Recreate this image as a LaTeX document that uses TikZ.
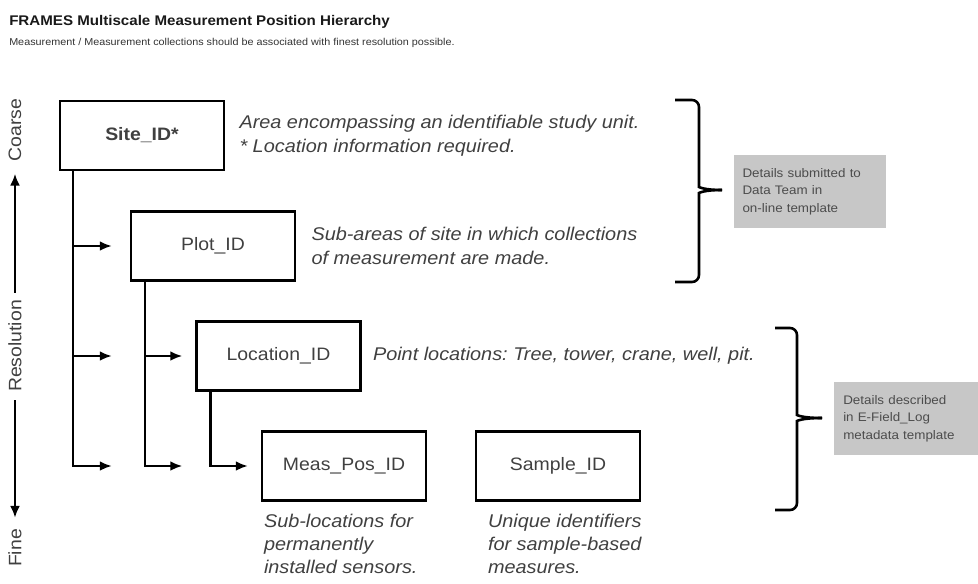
\documentclass[tikz,border=0pt]{standalone}
\usepackage{fontspec}
\setmainfont[FakeStretch=1.08]{Liberation Sans}
\usetikzlibrary{positioning, arrows.meta}
\frenchspacing

\begin{document}
\begin{tikzpicture}[x=1pt, y=-1pt, >={Latex[length=12pt,width=10pt]}, line width=2.5pt,
  idbox/.style={draw, rectangle, minimum width=164pt, minimum height=69pt, inner sep=0pt,
    text=black!75, font=\fontsize{18}{22}\selectfont},
  desc/.style={align=left, inner sep=0pt, text=black!75, font=\fontsize{18.4}{24}\selectfont\itshape},
  lowdesc/.style={desc, anchor=north west, font=\fontsize{18.4}{23}\selectfont\itshape},
  note/.style={fill=black!22, text=black!70, align=left, text width=134pt, inner xsep=9pt,
    inner ysep=0pt, minimum height=73pt, font=\fontsize{12.4}{17.5}\selectfont},
  axis/.style={rotate=90, inner sep=0pt, text=black!75, font=\fontsize{18}{20}\selectfont},
  bracket/.style={line width=2.6pt, rounded corners=7pt}]
  \useasboundingbox (0,0) rectangle (978,584);

  % heading
  \node[anchor=base west, inner sep=0pt, text=black!90, font=\bfseries\fontsize{14}{16}\selectfont] (title) at (8,25)
    {FRAMES Multiscale Measurement Position Hierarchy};
  \node[anchor=base west, inner sep=0pt, text=black!80, font=\fontsize{10}{11}\selectfont] (subtitle) at (8,45)
    {Measurement / Measurement collections should be associated with finest resolution possible.};

  % resolution axis
  \node[axis] (coarse) at (15,130) {Coarse};
  \node[axis] (res) at (15,346) {Resolution};
  \node[axis] (fine) at (15,548) {Fine};
  \draw[->, shorten <=6pt, shorten >=11pt] (res.east) -- (coarse.west);
  \draw[->, shorten <=7pt, shorten >=10pt] (res.west) -- (fine.east);

  % id boxes
  \node[idbox, font=\bfseries\fontsize{18}{22}\selectfont] (site) at (142,135.5) {Site\_ID*};
  \node[idbox] (plot) at (213,246) {Plot\_ID};
  \node[idbox] (loc) at (278.5,356) {Location\_ID};
  \node[idbox] (meas) at (344,466) {Meas\_Pos\_ID};
  \node[idbox] (sample) at (558,466) {Sample\_ID};

  % descriptions
  \node[desc, anchor=west, right=13pt of site] (siteDesc)
    {Area encompassing an identifiable study unit.\\{*} Location information required.};
  \node[desc, anchor=west, right=14pt of plot] (plotDesc)
    {Sub-areas of site in which collections\\of measurement are made.};
  \node[desc, anchor=west, right=10pt of loc] (locDesc)
    {Point locations: Tree, tower, crane, well, pit.};
  \node[lowdesc] (measDesc) at ([xshift=2pt,yshift=-11pt]meas.south west)
    {Sub-locations for\\permanently\\installed sensors.};
  \node[lowdesc] (sampleDesc) at ([xshift=12pt,yshift=-11pt]sample.south west)
    {Unique identifiers\\for sample-based\\measures.};

  % hierarchy arrows
  \coordinate (siteTip1) at ([xshift=-18pt]plot.west);
  \coordinate (siteTip2) at (siteTip1 |- loc.west);
  \coordinate (siteTip3) at (siteTip1 |- meas.west);
  \coordinate (plotTip2) at ([xshift=-13pt]loc.west);
  \coordinate (plotTip3) at (plotTip2 |- meas.west);
  \coordinate (locTip3) at ([xshift=-13pt]meas.west);
  \foreach \t in {siteTip1, siteTip2, siteTip3}
    \draw[->] ([xshift=14pt]site.south west) |- (\t);
  \foreach \t in {plotTip2, plotTip3}
    \draw[->] ([xshift=15pt]plot.south west) |- (\t);
  \draw[->] ([xshift=15pt]loc.south west) |- (locTip3);

  % brackets and notes
  \draw[bracket] (675,100) -- (699,100) -- (699,180) [sharp corners] .. controls (699,187) and (704,190) .. (722,190);
  \draw[bracket] (675,282) -- (699,282) -- (699,200) [sharp corners] .. controls (699,193) and (704,190) .. (722,190);
  \node[note] (teamNote) at (809.5,191.5) {Details submitted to\\Data Team in\\on-line template};

  \draw[bracket] (775,328) -- (797,328) -- (797,408) [sharp corners] .. controls (797,415) and (802,418) .. (822,418);
  \draw[bracket] (775,510) -- (797,510) -- (797,428) [sharp corners] .. controls (797,421) and (802,418) .. (822,418);
  \node[note, anchor=west] (logNote) at (833,418.5) {Details described\\in E-Field\_Log\\metadata template};
\end{tikzpicture}
\end{document}
